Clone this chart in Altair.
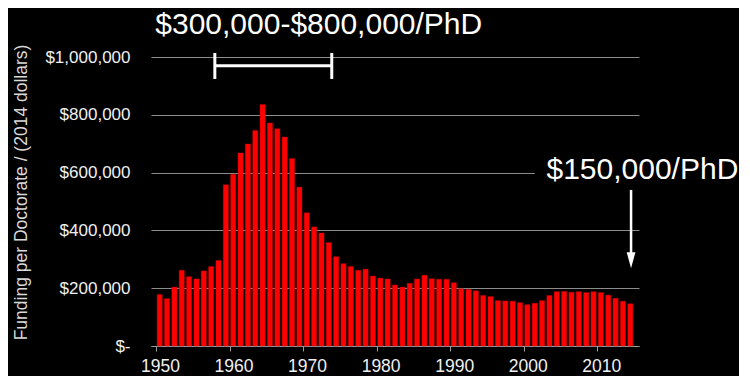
import altair as alt
import pandas as pd

# ---- data ----
years = list(range(1950, 2015))
funding_k = [178, 164, 204, 262, 240, 232, 260, 275, 296, 558,
             594, 668, 699, 746, 836, 772, 752, 723, 649, 550,
             461, 412, 391, 358, 309, 285, 275, 262, 266, 242,
             235, 232, 211, 204, 217, 232, 245, 233, 231, 231,
             219, 198, 196, 191, 175, 171, 157, 156, 155, 150,
             143, 148, 157, 175, 188, 189, 186, 188, 185, 188,
             185, 176, 165, 155, 146]

x_domain = [1949.5, 2014.5]
y_domain = [0, 1_000_000]
x_tick_values = [1949.5 + 5 * k for k in range(14)]
y_tick_values = [100_000 * k for k in range(11)]

title_range = "$300,000-$800,000/PhD"
title_now = "$150,000/PhD"
bracket_years = [1957.5, 1973.4]
bracket_y = 970_000
bracket_end_span = [924_000, 1_014_000]
title_range_pos = (1949.4, 1_080_000)
title_now_pos = (2002.6, 578_000)
title_now_box = ([2001.0, 2026.0], [548_000, 645_000])
arrow_year = 2014.1
arrow_span = [540_000, 300_000]
arrow_head_y = 297_000

FONT = "Liberation Sans"

df = pd.DataFrame({"year": years, "funding": [v * 1000 for v in funding_k]})

xs = alt.Scale(domain=x_domain, nice=False, zero=False)
ys = alt.Scale(domain=y_domain, nice=False, zero=False)

x_axis = alt.Axis(
    values=x_tick_values,
    labelExpr="(datum.value - 1949.5) % 10 == 0 ? toString(datum.value + 0.5) : ''",
    labelOffset=4,
    labelFontSize=17.5,
    labelFont=FONT,
    labelColor="#f0f0f0",
    labelPadding=6,
    tickSize=5,
    tickColor="#9a9a9a",
    domainColor="#9a9a9a",
    grid=False,
    title=None,
    labelFlush=False,
    labelOverlap=False,
)

y_axis = alt.Axis(
    values=y_tick_values,
    labelExpr="datum.value == 0 ? '$-' : (datum.value % 200000 == 0 ? '$' + format(datum.value, ',') : '')",
    labelFontSize=17,
    labelFont=FONT,
    labelColor="#f0f0f0",
    labelPadding=21,
    tickSize=0,
    ticks=False,
    domain=False,
    grid=True,
    gridColor="#8c8c8c",
    gridWidth=1,
    title="Funding per Doctorate / (2014 dollars)",
    titleFont=FONT,
    titleFontSize=17.5,
    titleFontWeight="normal",
    titleColor="#d9d9d9",
    titleAngle=-90,
    titleX=-130,
    titleY=135,
    titleBaseline="middle",
    titleAlign="center",
    labelOverlap=False,
)

bars = alt.Chart(df).mark_bar(size=5.2, color="#ff0000", stroke="#c00000", strokeWidth=0.4).encode(
    x=alt.X("year:Q", scale=xs, axis=x_axis),
    y=alt.Y("funding:Q", scale=ys, axis=y_axis),
)

# bracket
br_h = alt.Chart(pd.DataFrame({"x": [bracket_years[0]], "x2": [bracket_years[1]], "y": [bracket_y]})).mark_rule(
    color="white", strokeWidth=3).encode(
    x=alt.X("x:Q", scale=xs), x2="x2:Q", y=alt.Y("y:Q", scale=ys))
br_v = alt.Chart(pd.DataFrame({"x": bracket_years,
                               "y": [bracket_end_span[0]] * 2,
                               "y2": [bracket_end_span[1]] * 2})).mark_rule(
    color="white", strokeWidth=3).encode(
    x=alt.X("x:Q", scale=xs), y=alt.Y("y:Q", scale=ys), y2="y2:Q")

t1 = alt.Chart(pd.DataFrame({"x": [title_range_pos[0]], "y": [title_range_pos[1]], "t": [title_range]})).mark_text(
    align="left", baseline="alphabetic", fontSize=30, font=FONT, color="white").encode(
    x=alt.X("x:Q", scale=xs), y=alt.Y("y:Q", scale=ys), text="t:N")

box = alt.Chart(pd.DataFrame({"x": [title_now_box[0][0]], "x2": [title_now_box[0][1]],
                              "y": [title_now_box[1][0]], "y2": [title_now_box[1][1]]})).mark_rect(
    color="black").encode(
    x=alt.X("x:Q", scale=xs), x2="x2:Q", y=alt.Y("y:Q", scale=ys), y2="y2:Q")

t2 = alt.Chart(pd.DataFrame({"x": [title_now_pos[0]], "y": [title_now_pos[1]], "t": [title_now]})).mark_text(
    align="left", baseline="alphabetic", fontSize=30, font=FONT, color="white").encode(
    x=alt.X("x:Q", scale=xs), y=alt.Y("y:Q", scale=ys), text="t:N")

arrow = alt.Chart(pd.DataFrame({"x": [arrow_year], "y": [arrow_span[0]], "y2": [arrow_span[1]]})).mark_rule(
    color="white", strokeWidth=2.5).encode(
    x=alt.X("x:Q", scale=xs), y=alt.Y("y:Q", scale=ys), y2="y2:Q")

head = alt.Chart(pd.DataFrame({"x": [arrow_year], "y": [arrow_head_y]})).mark_point(
    shape="M-0.55,-1L0.55,-1L0,1Z", filled=True, color="white", size=256, opacity=1).encode(
    x=alt.X("x:Q", scale=xs), y=alt.Y("y:Q", scale=ys))

chart = alt.layer(bars, br_h, br_v, t1, box, t2, arrow, head).properties(
    width=488,
    height=289,
    padding={"left": 143, "top": 49, "right": 100, "bottom": 30},
    autosize=alt.AutoSizeParams(type="none"),
    background="black",
).configure_view(stroke=None)

chart.save("out.html", embed_options={"renderer": "svg", "actions": False})
